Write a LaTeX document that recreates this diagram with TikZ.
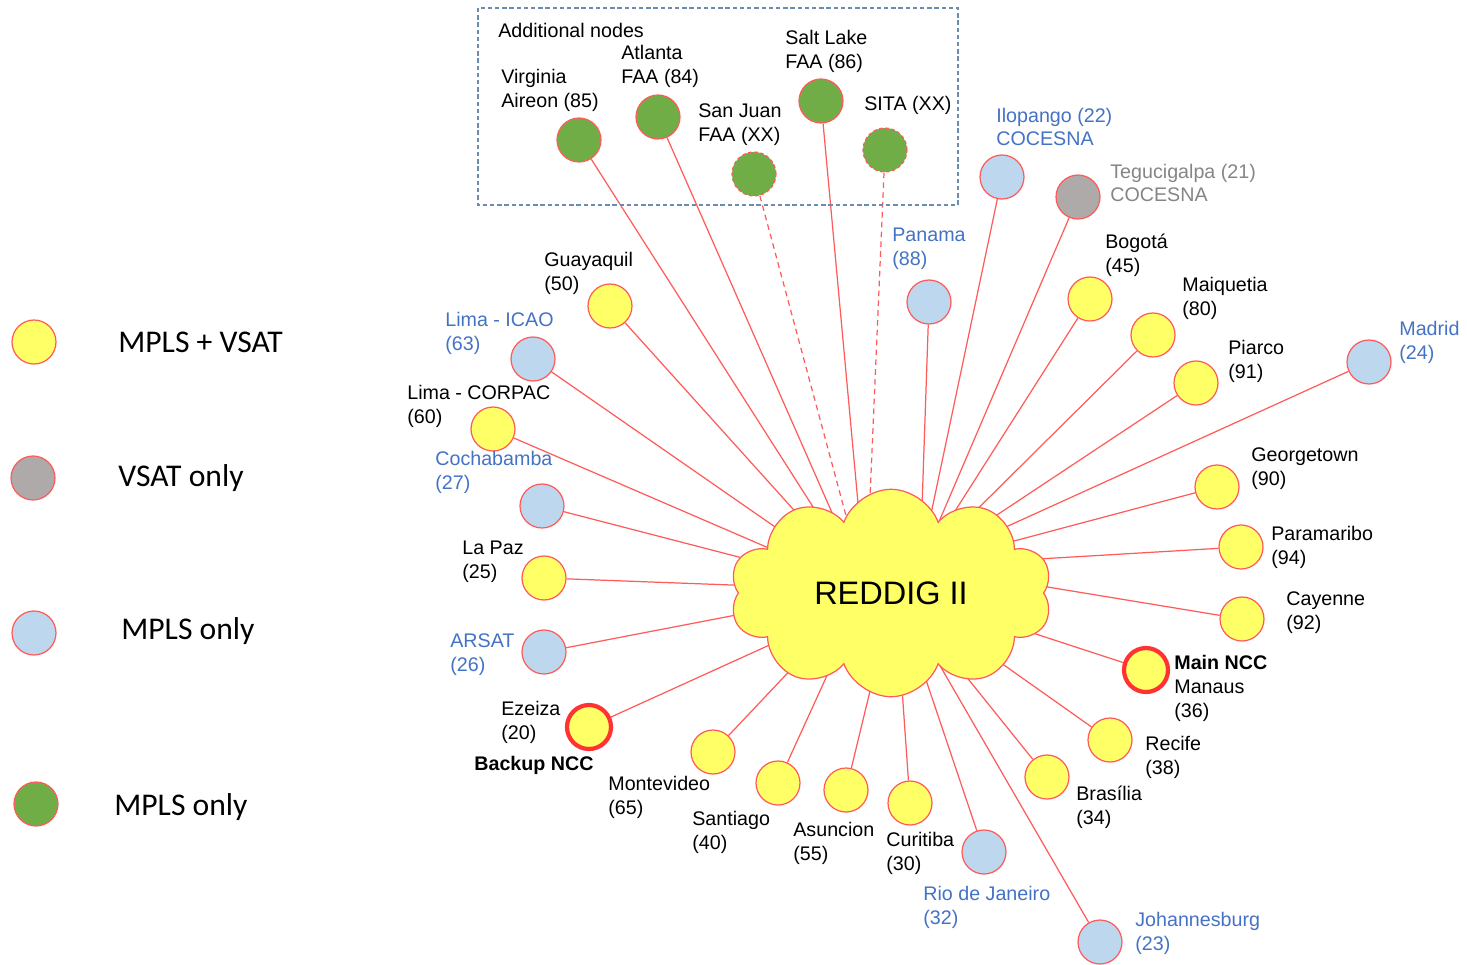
\documentclass[tikz,border=0pt]{standalone}
\usepackage{fontspec}
\setmainfont{Liberation Sans}
\newfontfamily\legendfont{Carlito}
\usepackage{xcolor}
\definecolor{cyell}{HTML}{FFFF66}
\definecolor{cblue}{HTML}{BDD7EE}
\definecolor{cgrey}{HTML}{AEAAAA}
\definecolor{cgreen}{HTML}{70AD47}
\definecolor{cedge}{HTML}{FF5B5B}
\definecolor{tblue}{HTML}{4472C4}
\definecolor{tgrey}{HTML}{858585}
\definecolor{boxline}{HTML}{6A8CB0}
\usetikzlibrary{shapes.symbols,backgrounds}
\tikzset{
  site/.style={circle, draw=cedge, line width=0.7pt, minimum size=8.8mm, inner sep=0pt},
  sy/.style={site, fill=cyell},
  sb/.style={site, fill=cblue},
  sg/.style={site, fill=cgrey},
  sgr/.style={site, fill=cgreen},
  sdash/.style={sgr, dash pattern=on 2pt off 1.5pt},
  ncc/.style={sy, draw=red!80, line width=2.4pt},
  lbl/.style={anchor=west, align=left, inner sep=0pt,
              font=\fontsize{11.2}{13.6}\selectfont},
  lblue/.style={lbl, text=tblue},
  lgrey/.style={lbl, text=tgrey},
  link/.style={draw=cedge, line width=0.7pt},
  dlink/.style={link, dash pattern=on 3.2pt off 2.4pt},
  leg/.style={anchor=west, inner sep=0pt, font=\legendfont\fontsize{18}{20}\selectfont},
}

\begin{document}
\begin{tikzpicture}[x=0.02cm, y=-0.02cm]
  \useasboundingbox (0,0) rectangle (1467,964);

  % legend
  \node[sy]  (leg1) at (34,342) {};
  \node[sg]  (leg2) at (33,478) {};
  \node[sb]  (leg3) at (34,633) {};
  \node[sgr] (leg4) at (36,804) {};
  \node[leg] at (118,342) {MPLS + VSAT};
  \node[leg] at (118,478) {VSAT only};
  \node[leg] at (121,631) {MPLS only};
  \node[leg] at (114,807) {MPLS only};

  % additional nodes
  \draw[boxline, line width=0.6pt, dash pattern=on 2.5pt off 1.6pt] (478,8) rectangle (958,205);
  \node[lbl] at (498,30) {Additional nodes};
  \node[sgr]   (vir)  at (579,140) {};
  \node[sgr]   (atl)  at (658,117) {};
  \node[sdash] (sanj) at (754,174) {};
  \node[sgr]   (slc)  at (821,101) {};
  \node[sdash] (sita) at (885,150) {};
  \node[lbl] at (501,90)  {Virginia\\Aireon (85)};
  \node[lbl] at (621,66)  {Atlanta\\FAA (84)};
  \node[lbl] at (698,125) {San Juan\\FAA (XX)};
  \node[lbl] at (785,51)  {Salt Lake\\FAA (86)};
  \node[lbl] at (864,105) {SITA (XX)};

  % hub
  \node[cloud, cloud puffs=10, cloud puff arc=140, aspect=1.56,
        fill=cyell, draw=cedge, line width=0.7pt,
        minimum width=6.45cm, minimum height=4.15cm,
        font=\fontsize{18.5}{20}\selectfont] (reddig) at (891,593) {REDDIG II};
  \coordinate (hubL) at (866,590);
  \coordinate (hubB) at (895,588);
  \coordinate (hubR) at (920,566);

  % sites
  \node[sb]  (ilo)  at (1002,177) {};
  \node[sg]  (teg)  at (1078,197) {};
  \node[sb]  (pan)  at (929,302)  {};
  \node[sy]  (bog)  at (1090,299) {};
  \node[sy]  (mai)  at (1153,335) {};
  \node[sy]  (pia)  at (1196,383) {};
  \node[sb]  (mad)  at (1369,362) {};
  \node[sy]  (geo)  at (1217,487) {};
  \node[sy]  (par)  at (1241,547) {};
  \node[sy]  (cay)  at (1242,619) {};
  \node[ncc] (man)  at (1146,670) {};
  \node[sy]  (rec)  at (1110,740) {};
  \node[sy]  (bra)  at (1047,777) {};
  \node[sb]  (joh)  at (1100,942) {};
  \node[sb]  (rio)  at (984,852)  {};
  \node[sy]  (cur)  at (910,803)  {};
  \node[sy]  (asu)  at (846,790)  {};
  \node[sy]  (san)  at (778,783)  {};
  \node[sy]  (mon)  at (713,752)  {};
  \node[ncc] (eze)  at (589,727)  {};
  \node[sb]  (ars)  at (544,652)  {};
  \node[sy]  (lpz)  at (544,578)  {};
  \node[sb]  (cbb)  at (542,506)  {};
  \node[sy]  (lcor) at (493,429)  {};
  \node[sb]  (lica) at (533,359)  {};
  \node[sy]  (gye)  at (610,306)  {};

  % labels
  \node[lblue] at (996,127)  {Ilopango (22)\\COCESNA};
  \node[lgrey] at (1110,183) {Tegucigalpa (21)\\COCESNA};
  \node[lblue] at (892,249)  {Panama\\(88)};
  \node[lbl]   at (1105,255) {Bogotá\\(45)};
  \node[lbl]   at (1182,298) {Maiquetia\\(80)};
  \node[lbl]   at (1228,361) {Piarco\\(91)};
  \node[lblue] at (1399,342) {Madrid\\(24)};
  \node[lbl]   at (1251,469) {Georgetown\\(90)};
  \node[lbl]   at (1271,547) {Paramaribo\\(94)};
  \node[lbl]   at (1286,613) {Cayenne\\(92)};
  \node[lbl]   at (1174,688) {\textbf{Main NCC}\\Manaus\\(36)};
  \node[lbl]   at (1145,757) {Recife\\(38)};
  \node[lbl]   at (1076,807) {Brasília\\(34)};
  \node[lblue] at (1135,933) {Johannesburg\\(23)};
  \node[lblue] at (923,907)  {Rio de Janeiro\\(32)};
  \node[lbl]   at (886,853)  {Curitiba\\(30)};
  \node[lbl]   at (793,843)  {Asuncion\\(55)};
  \node[lbl]   at (692,832)  {Santiago\\(40)};
  \node[lbl]   at (608,797)  {Montevideo\\(65)};
  \node[lbl]   at (501,722)  {Ezeiza\\(20)};
  \node[lbl]   at (474,765)  {\textbf{Backup NCC}};
  \node[lblue] at (450,655)  {ARSAT\\(26)};
  \node[lbl]   at (462,562)  {La Paz\\(25)};
  \node[lblue] at (435,472)  {Cochabamba\\(27)};
  \node[lbl]   at (407,406)  {Lima - CORPAC\\(60)};
  \node[lblue] at (445,333)  {Lima - ICAO\\(63)};
  \node[lbl]   at (544,273)  {Guayaquil\\(50)};

  % links, hidden under the cloud
  \begin{scope}[on background layer]
    \foreach \s in {vir,atl,slc,gye,lica,lcor,cbb,lpz,ars,mon,san}
      \draw[link] (\s) -- (hubL);
    \foreach \s in {eze,asu,cur,rio,joh,bra,rec,man}
      \draw[link] (\s) -- (hubB);
    \foreach \s in {pan,ilo,teg,bog,mai,pia,mad,geo,par,cay}
      \draw[link] (\s) -- (hubR);
    \draw[dlink] (sanj) -- (hubL);
    \draw[dlink] (sita) -- (hubL);
  \end{scope}
\end{tikzpicture}
\end{document}
